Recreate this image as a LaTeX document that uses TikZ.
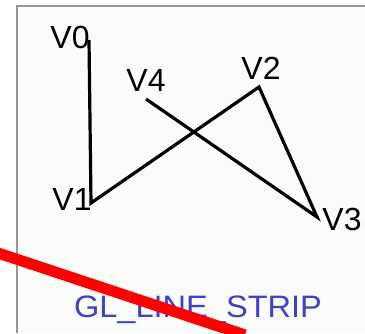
\documentclass[tikz,border=0pt]{standalone}
\usepackage{fontspec}
\setmainfont{Liberation Sans}
\usetikzlibrary{positioning}
\definecolor{panelbg}{RGB}{250,252,250}
\definecolor{framegray}{RGB}{150,150,150}
\definecolor{stripblue}{RGB}{64,64,200}

\begin{document}
\begin{tikzpicture}[x=1pt,y=-1pt,
    vlabel/.style={font=\fontsize{32}{32}\selectfont,inner sep=0pt},
    strip/.style={line width=3.2pt,line join=miter}]
  \useasboundingbox (0,0) rectangle (365,333);

  % Panel
  \fill[panelbg] (17,6) rectangle (365,333);
  \draw[framegray,line width=1.2pt] (17,333) -- (17,6) -- (365,6);

  % Vertices
  \foreach \n/\x/\y in {0/89/40, 1/91/203, 2/259/87, 3/317/217, 4/146/99} {
    \coordinate (v\n) at (\x,\y);
  }

  % Labels
  \node[vlabel] (l0) at (70,37) {V0};
  \node[vlabel] (l1) at (72,199) {V1};
  \node[vlabel] (l2) at (261,68) {V2};
  \node[vlabel] (l3) at (342,219) {V3};
  \node[vlabel] (l4) at (146,80) {V4};

  % Line strip
  \draw[strip] (v0) -- (v1) -- (v2) -- (v3) -- (v4);

  % Caption
  \node[font=\fontsize{31}{31}\selectfont,text=stripblue,inner sep=0pt,xscale=1.05] (cap) at (198,310) {GL\_LINE\_STRIP};

  % Cross-out
  \coordinate (r0) at (-5,252);
  \coordinate (r1) at (245,335);
  \draw[red,line width=11pt] (r0) -- (r1);
\end{tikzpicture}
\end{document}
